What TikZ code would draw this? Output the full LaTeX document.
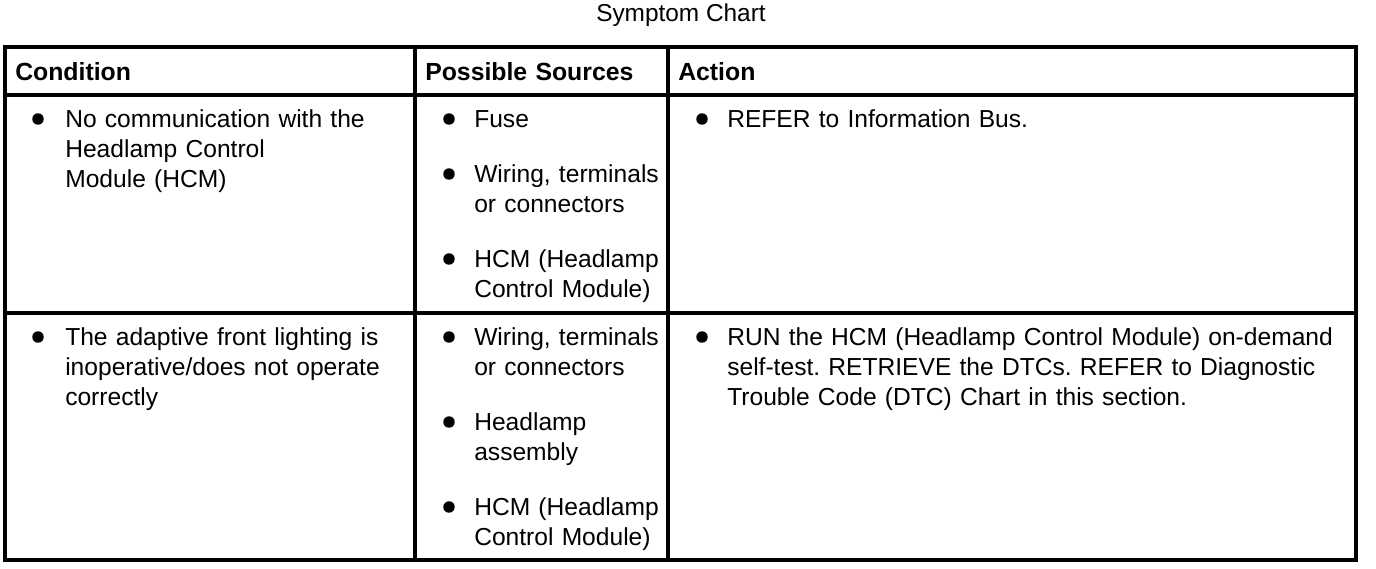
\documentclass[tikz,border=0pt]{standalone}
\usepackage{fontspec}
\setmainfont{Liberation Sans}
\usepackage{tikz}
\frenchspacing

\tikzset{
  txt/.style  = {anchor=base west, align=left, inner sep=0pt, text width=330pt,
                 font=\fontsize{18.45}{22.5}\selectfont},
  head/.style = {txt, font=\fontsize{18.6}{22.5}\selectfont\bfseries},
  rule/.style = {line width=2.3pt},
}

\begin{document}
\begin{tikzpicture}[x=0.75pt, y=-0.75pt]
        \useasboundingbox (0,0) rectangle (1376,568);

        \node [anchor=base, inner sep=0pt, font=\fontsize{18.3}{22.5}\selectfont] (title) at (681,21) {Symptom Chart};

        % table frame
        \draw [rule, line width=2.7pt] (5,47) rectangle (1356,560);
        \draw [rule] (5,95) -- (1356,95);
        \draw [rule] (5,313) -- (1356,313);
        \draw [rule] (415,47) -- (415,560);
        \draw [rule] (668,47) -- (668,560);

        % header
        \node [head] (hcond) at (15,80)  {Condition};
        \node [head] (hsrc)  at (425,80) {Possible Sources};
        \node [head] (hact)  at (678,80) {Action};

        % first row
        \fill (38,119) circle [radius=4.3pt];
        \node [txt] (cond1) at (65,127.5) {No communication with the\\Headlamp Control\\Module (HCM)};
        \fill (449,119) circle [radius=4.3pt];
        \node [txt] (src1a) at (474,127.5) {Fuse};
        \fill (449,174) circle [radius=4.3pt];
        \node [txt] (src1b) at (474,182.5) {Wiring, terminals\\or connectors};
        \fill (449,259) circle [radius=4.3pt];
        \node [txt] (src1c) at (474,267.5) {HCM (Headlamp\\Control Module)};
        \fill (702,119) circle [radius=4.3pt];
        \node [txt] (act1) at (727,127.5) {REFER to Information Bus.};

        % second row
        \fill (38,337) circle [radius=4.3pt];
        \node [txt] (cond2) at (65,345.5) {The adaptive front lighting is\\inoperative/does not operate\\correctly};
        \fill (449,337) circle [radius=4.3pt];
        \node [txt] (src2a) at (474,345.5) {Wiring, terminals\\or connectors};
        \fill (449,422) circle [radius=4.3pt];
        \node [txt] (src2b) at (474,430.5) {Headlamp\\assembly};
        \fill (449,507) circle [radius=4.3pt];
        \node [txt] (src2c) at (474,515.5) {HCM (Headlamp\\Control Module)};
        \fill (702,337) circle [radius=4.3pt];
        \node [txt, text width=480pt] (act2) at (727,345.5) {RUN the HCM (Headlamp Control Module) on-demand\\self-test. RETRIEVE the DTCs. REFER to Diagnostic\\Trouble Code (DTC) Chart in this section.};

\end{tikzpicture}
\end{document}
